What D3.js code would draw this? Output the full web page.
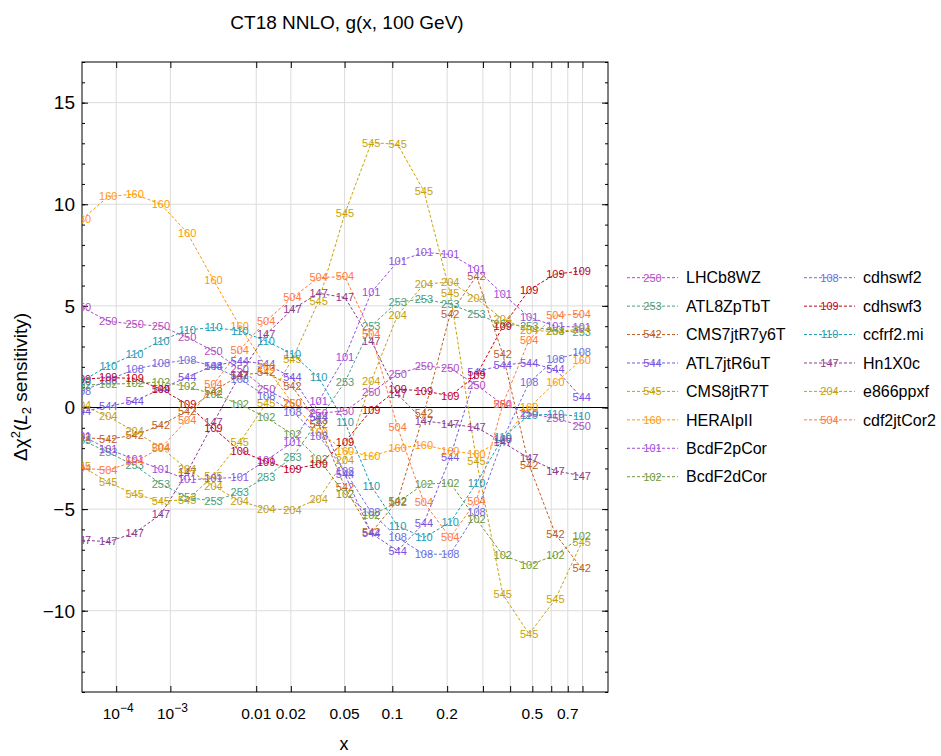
<!DOCTYPE html>
<html><head><meta charset="utf-8">
<script src="https://cdn.jsdelivr.net/npm/d3@7"></script>
<style>
body{margin:0;background:#fff;}
svg{font-family:"Liberation Sans",Arial,Helvetica,sans-serif;}
</style>
</head><body>
<svg id="c" width="941" height="756"></svg>
<script>
// ---- data ----
const xValues = [1e-5, 6.41e-5, 2.48e-4, 7.17e-4, 1.72e-3, 3.63e-3, 6.93e-3, 0.01231, 0.0206, 0.03284,
                 0.05033, 0.07457, 0.10737, 0.15082, 0.20731, 0.27958, 0.37074, 0.48426, 0.62403, 0.79436];

const xTickValues = [1e-4, 1e-3, 0.01, 0.02, 0.05, 0.1, 0.2, 0.3, 0.4, 0.5, 0.6, 0.7, 0.8];
const xTickLabels = [["10","−4"], ["10","−3"], "0.01", "0.02", "0.05", "0.1", "0.2", "", "", "0.5", "", "0.7", ""];
const yMajorTicks = [-10, -5, 0, 5, 10, 15];
const yMinorTicks = [-14,-13,-12,-11,-10,-9,-8,-7,-6,-5,-4,-3,-2,-1,0,1,2,3,4,5,6,7,8,9,10,11,12,13,14,15,16,17];

const seriesIds    = ["250","253","542","544","545","160","101","102","108","109","110","147","204","504"];
const seriesNames  = ["LHCb8WZ","ATL8ZpTbT","CMS7jtR7y6T","ATL7jtR6uT","CMS8jtR7T","HERAIpII","BcdF2pCor","BcdF2dCor",
                      "cdhswf2","cdhswf3","ccfrf2.mi","Hn1X0c","e866ppxf","cdf2jtCor2"];
const seriesColors = ["#b34dc4","#4c9f80","#c0601e","#7b52e0","#c9a205","#ff9900","#9a4fe0","#6e9a3c",
                      "#6d6dde","#c00018","#1d9bb4","#8e3c8e","#c4a014","#ff7840"];

const s250 = [4.93, 4.24, 4.1, 4.0, 3.45, 2.78, 1.9, 0.9, 0.2, -0.28, -0.17, 0.75, 1.64, 2.05, 1.93, 1.1, 0.16, -0.3, -0.53, -0.9];
const s253 = [-1.6, -2.21, -2.86, -3.75, -4.43, -4.6, -4.18, -3.42, -2.46, -0.6, 1.26, 4.01, 5.2, 5.33, 5.08, 4.59, 4.1, 4.0, 3.77, 3.7];
const s542 = [-1.48, -1.56, -1.36, -0.87, -0.17, 0.8, 1.6, 1.72, 1.03, -0.82, -3.93, -6.15, -4.59, -0.3, 4.59, 6.47, 2.62, -2.84, -6.23, -7.92];
const s544 = [-0.2, 0.05, 0.33, 0.9, 1.5, 2.05, 2.3, 2.13, 1.47, -0.5, -3.3, -6.2, -7.05, -5.69, -2.46, 1.75, 2.1, 2.2, 1.88, 0.49];
const s545 = [-2.9, -3.68, -4.27, -4.6, -4.55, -3.36, -1.72, 0.2, 2.38, 5.24, 9.56, 13.03, 12.95, 10.65, 5.62, -2.63, -9.2, -11.15, -9.43, -6.64];
const s160 = [9.26, 10.38, 10.5, 10.0, 8.6, 6.26, 4.0, 2.0, 0.2, -1.2, -2.13, -2.4, -2.0, -1.84, -2.13, -2.3, -1.56, 0.0, 1.23, 2.34];
const s101 = [-1.4, -2.05, -2.55, -3.05, -3.55, -3.5, -3.43, -2.6, -1.72, 0.3, 2.5, 5.66, 7.18, 7.63, 7.53, 6.8, 5.58, 4.45, 4.0, 3.95];
const s102 = [1.1, 1.15, 1.18, 1.26, 1.03, 0.65, 0.16, -0.49, -1.31, -2.54, -4.26, -5.3, -4.67, -3.77, -3.72, -5.5, -7.27, -7.76, -7.27, -6.35];
const s108 = [0.8, 1.35, 1.88, 2.16, 2.34, 2.05, 1.39, 0.57, -0.21, -1.39, -3.12, -5.17, -6.4, -7.22, -7.22, -5.17, -1.56, 1.23, 2.38, 2.7];
const s109 = [1.39, 1.47, 1.43, 0.9, 0.16, -1.03, -2.13, -2.67, -3.03, -2.79, -1.69, -0.13, 0.9, 0.82, 0.57, 1.59, 3.98, 5.79, 6.56, 6.72];
const s110 = [1.3, 2.05, 2.62, 3.28, 3.82, 3.93, 3.77, 3.28, 2.62, 1.47, -0.74, -3.86, -5.83, -6.4, -5.66, -3.72, -1.48, -0.38, -0.33, -0.44];
const s147 = [-6.53, -6.6, -6.18, -5.25, -3.2, -0.74, 1.6, 3.6, 4.84, 5.62, 5.41, 3.28, 0.65, -0.66, -0.82, -0.98, -1.72, -2.5, -3.12, -3.36];
const s204 = [0.1, -0.45, -1.18, -1.97, -3.03, -3.87, -4.6, -5.0, -5.03, -4.5, -2.58, 1.31, 4.54, 6.06, 6.18, 5.36, 4.34, 3.8, 3.74, 3.85];
const s504 = [-3.0, -3.07, -2.66, -2.0, -0.61, 1.15, 2.83, 4.26, 5.41, 6.39, 6.44, 3.6, -0.98, -4.67, -6.4, -4.59, 0.16, 3.33, 4.54, 4.59];

const seriesValues = [s250, s253, s542, s544, s545, s160, s101, s102, s108, s109, s110, s147, s204, s504];

// ---- layout ----
const svg = d3.select("#c");
const L = 82, R = 608, T = 62, B = 692;
const x = d3.scalePow().exponent(0.2).domain([1e-5, 1]).range([L, R]);
const y = d3.scaleLinear().domain([-14, 17]).range([B, T]);

svg.append("defs").append("clipPath").attr("id","clip")
  .append("rect").attr("x",L).attr("y",T).attr("width",R-L).attr("height",B-T);

// grid
const grid = svg.append("g");
grid.selectAll("line.gx").data(xTickValues).join("line")
  .attr("x1", d=>x(d)).attr("x2", d=>x(d)).attr("y1", T).attr("y2", B)
  .attr("stroke","#dcdcdc").attr("stroke-width",1);
grid.selectAll("line.gy").data(yMajorTicks.filter(d=>d!==0)).join("line")
  .attr("x1", L).attr("x2", R).attr("y1", d=>y(d)).attr("y2", d=>y(d))
  .attr("stroke","#dcdcdc").attr("stroke-width",1);

// zero line
svg.append("line").attr("x1",L).attr("x2",R).attr("y1",y(0)).attr("y2",y(0))
  .attr("stroke","#000").attr("stroke-width",1.2);

// axes (inward ticks)
function styleAxis(g){ g.select(".domain").remove(); g.selectAll("line").attr("stroke","#000"); }
svg.append("g").attr("transform",`translate(0,${B})`)
  .call(d3.axisBottom(x).tickValues(xTickValues).tickSize(-6).tickFormat("")).call(styleAxis);
svg.append("g").attr("transform",`translate(0,${T})`)
  .call(d3.axisTop(x).tickValues(xTickValues).tickSize(-6).tickFormat("")).call(styleAxis);
svg.append("g").attr("transform",`translate(${L},0)`)
  .call(d3.axisLeft(y).tickValues(yMinorTicks).tickSize(-3).tickFormat("")).call(styleAxis);
svg.append("g").attr("transform",`translate(${R},0)`)
  .call(d3.axisRight(y).tickValues(yMinorTicks).tickSize(-3).tickFormat("")).call(styleAxis);
svg.append("g").attr("transform",`translate(${L},0)`)
  .call(d3.axisLeft(y).tickValues(yMajorTicks).tickSize(-6).tickFormat("")).call(styleAxis);
svg.append("g").attr("transform",`translate(${R},0)`)
  .call(d3.axisRight(y).tickValues(yMajorTicks).tickSize(-6).tickFormat("")).call(styleAxis);

// x tick labels
xTickValues.forEach((v,i)=>{
  const lab = xTickLabels[i];
  if(!lab) return;
  const t = svg.append("text").attr("x", x(v)).attr("y", 719).attr("text-anchor","middle")
    .attr("font-size",15.5).attr("fill","#000");
  if(Array.isArray(lab)){
    t.append("tspan").text(lab[0]);
    t.append("tspan").attr("dy",-7).attr("font-size",12).text(lab[1]);
    t.attr("x", x(v)+2);
  } else t.text(lab);
});
// y tick labels
yMajorTicks.forEach(v=>{
  svg.append("text").attr("x", 75).attr("y", y(v)).attr("dy","0.36em")
    .attr("text-anchor","end").attr("font-size",19).attr("fill","#000")
    .text(String(v).replace("-","−"));
});

// frame
svg.append("rect").attr("x",L).attr("y",T).attr("width",R-L).attr("height",B-T)
  .attr("fill","none").attr("stroke","#000").attr("stroke-width",1);

// series
const plot = svg.append("g").attr("clip-path","url(#clip)");
const line = d3.line().x((d,i)=>x(xValues[i])).y(d=>y(d));
seriesValues.forEach((vals,k)=>{
  plot.append("path").attr("d", line(vals)).attr("fill","none")
    .attr("stroke", seriesColors[k]).attr("stroke-width",1).attr("stroke-dasharray","3,2");
});
seriesValues.forEach((vals,k)=>{
  plot.selectAll(null).data(vals).join("text")
    .attr("x",(d,i)=>x(xValues[i])).attr("y",d=>y(d)).attr("dy","0.35em")
    .attr("text-anchor","middle").attr("font-size",11).attr("fill",seriesColors[k])
    .text(seriesIds[k]);
});

// title, axis titles
svg.append("text").attr("x",347).attr("y",29).attr("text-anchor","middle").attr("font-size",19)
  .text("CT18 NNLO, g(x, 100 GeV)");
svg.append("text").attr("x",344).attr("y",750).attr("text-anchor","middle").attr("font-size",18).text("x");
const yt = svg.append("text").attr("transform","translate(27,387) rotate(-90)").attr("text-anchor","middle").attr("font-size",19);
yt.append("tspan").text("Δχ");
yt.append("tspan").attr("dy",-7).attr("font-size",13).text("2");
yt.append("tspan").attr("dy",7).text("(");
yt.append("tspan").attr("font-style","italic").text("L");
yt.append("tspan").attr("dy",4).attr("font-size",13).text("2");
yt.append("tspan").attr("dy",-4).text(" sensitivity)");

// legend
const leg = svg.append("g");
seriesIds.forEach((id,k)=>{
  const col = k < 8 ? 0 : 1, row = k < 8 ? k : k-8;
  const x0 = col===0 ? 627 : 804;
  const yy = 277.7 + row*28.43;
  leg.append("line").attr("x1",x0).attr("x2",x0+51).attr("y1",yy).attr("y2",yy)
    .attr("stroke",seriesColors[k]).attr("stroke-dasharray","3,2");
  leg.append("text").attr("x",x0+25.5).attr("y",yy).attr("dy","0.35em").attr("text-anchor","middle")
    .attr("font-size",11).attr("fill",seriesColors[k]).text(id);
  leg.append("text").attr("x",x0+59).attr("y",yy).attr("dy","0.36em").attr("font-size",16)
    .attr("fill","#000").text(seriesNames[k]);
});
</script>
</body></html>
